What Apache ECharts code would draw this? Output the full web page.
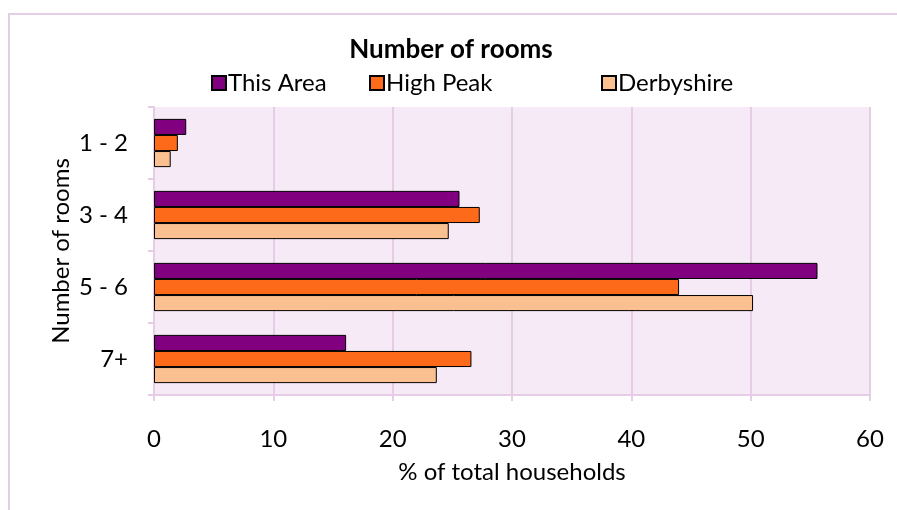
<!doctype html>
<html>
<head>
    <title>Number of rooms</title>
    <script src="https://cdn.jsdelivr.net/npm/echarts@6/dist/echarts.min.js"></script>
</head>
<style>
    html, body {
        margin: 0;
        padding: 0;
        background: #fff;
    }
    #frame {
        position: absolute;
        left: 8px;
        top: 13px;
        width: 900px;
        height: 520px;
        border: 2px solid #e6cde6;
        box-sizing: border-box;
    }
    #chart {
        position: absolute;
        left: 0;
        top: 0;
        width: 897px;
        height: 510px;
    }
</style>
<body>
<div id="frame"></div>
<div id="chart"></div>
<script>
  var categories = ['1 - 2', '3 - 4', '5 - 6', '7+'];
  var seriesNames = ['This Area', 'High Peak', 'Derbyshire'];
  var thisArea = [2.7, 25.6, 55.6, 16.1];
  var highPeak = [2.0, 27.3, 44.0, 26.6];
  var derbyshire = [1.4, 24.7, 50.2, 23.7];
  var colors = ['#800080', '#fc6a1a', '#fac090'];
  var font = 'Lato, "Open Sans", sans-serif';

  var myChart = echarts.init(document.getElementById('chart'));

  function legendAt(name, left) {
    return {
      data: [name],
      left: left,
      top: 65,
      padding: 0,
      itemWidth: 14,
      itemHeight: 14,
      itemGap: 0,
      icon: 'rect',
      textStyle: { fontFamily: font, fontSize: 24, color: '#000', padding: [0, 0, 0, -3] }
    };
  }

  function barSeries(name, values, i) {
    return {
      name: name,
      type: 'bar',
      data: values,
      barGap: '0%',
      barCategoryGap: '33%',
      itemStyle: { color: colors[i], borderColor: '#000', borderWidth: 1 }
    };
  }

  myChart.setOption({
    animation: false,
    color: colors,
    title: {
      text: 'Number of rooms',
      left: 451,
      textAlign: 'center',
      top: 30,
      padding: 0,
      textStyle: { fontFamily: font, fontSize: 26, fontWeight: 'bold', color: '#000' }
    },
    legend: [
      legendAt(seriesNames[0], 211),
      legendAt(seriesNames[1], 369),
      legendAt(seriesNames[2], 601)
    ],
    grid: {
      left: 154,
      right: 27,
      top: 107,
      bottom: 115,
      show: true,
      backgroundColor: '#f6eaf6',
      borderWidth: 0
    },
    xAxis: {
      type: 'value',
      min: 0,
      max: 60,
      interval: 10,
      name: '% of total households',
      nameLocation: 'middle',
      nameGap: 59,
      nameMoveOverlap: false,
      nameTextStyle: { fontFamily: font, fontSize: 24, color: '#000' },
      axisLine: { show: true, lineStyle: { color: '#e6cde6', width: 2 } },
      axisTick: { show: true, length: 6, lineStyle: { color: '#e6cde6', width: 2 } },
      axisLabel: { fontFamily: font, fontSize: 24, color: '#000', margin: 26 },
      splitLine: { show: true, lineStyle: { color: '#e6cde6', width: 2 } }
    },
    yAxis: {
      type: 'category',
      data: categories,
      inverse: true,
      name: 'Number of rooms',
      nameLocation: 'middle',
      nameGap: 75,
      nameMoveOverlap: false,
      nameTextStyle: { fontFamily: font, fontSize: 24, color: '#000' },
      axisLine: { show: true, lineStyle: { color: '#e6cde6', width: 2 } },
      axisTick: { show: true, length: 6, lineStyle: { color: '#e6cde6', width: 2 } },
      axisLabel: { fontFamily: font, fontSize: 24, color: '#000', margin: 26 },
      splitLine: { show: false }
    },
    series: [
      barSeries(seriesNames[0], thisArea, 0),
      barSeries(seriesNames[1], highPeak, 1),
      barSeries(seriesNames[2], derbyshire, 2)
    ]
  });
</script>
</body>
</html>
